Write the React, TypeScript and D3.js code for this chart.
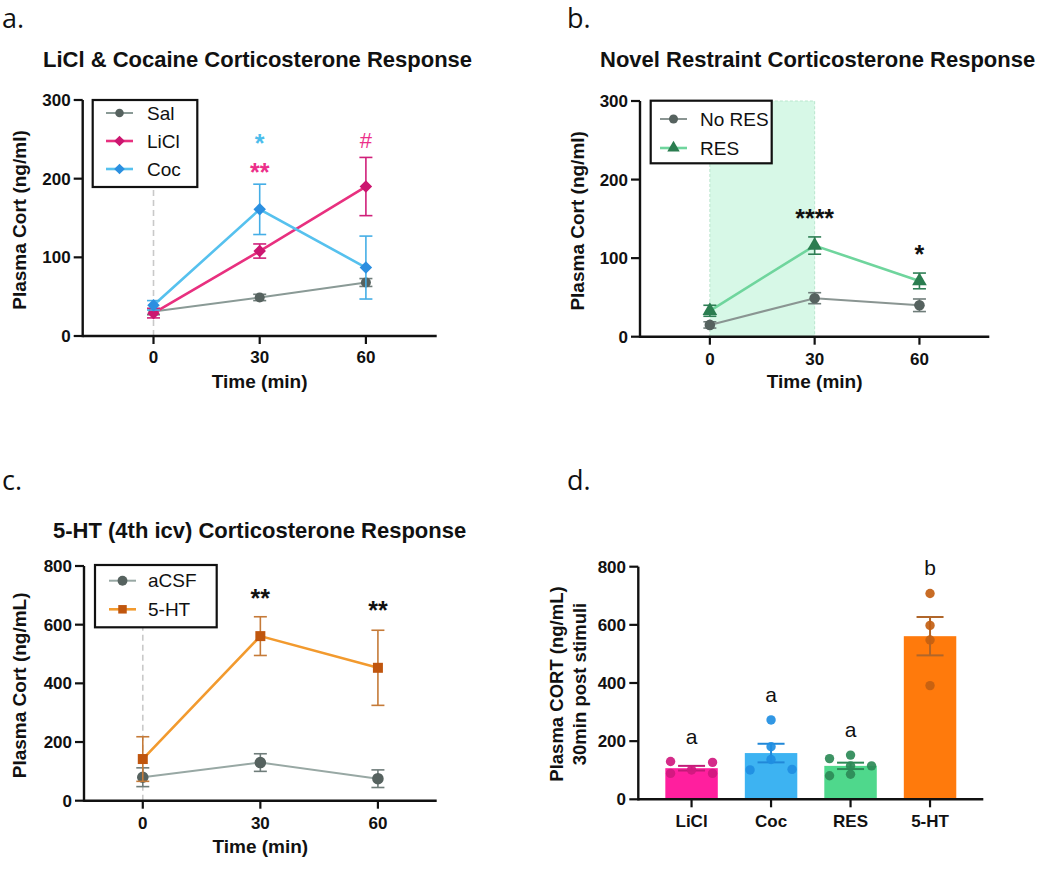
import React from "react";
import * as d3 from "d3";

// ---------- DATA ----------
const timePoints = [0, 30, 60];

// Panel a
const salMean = [31, 49, 68];
const salSem = [4, 4, 5];
const liclMean = [29, 108, 190];
const liclSem = [6, 9, 37];
const cocMean = [39, 161, 87];
const cocSem = [6, 32, 40];

// Panel b
const noResMean = [15, 49, 40];
const noResSem = [4, 7, 8];
const resMean = [33, 116, 71];
const resSem = [7, 11, 10];

// Panel c
const acsfMean = [80, 130, 75];
const acsfSem = [32, 30, 30];
const htMean = [142, 561, 453];
const htSem = [76, 66, 128];

// Panel d
const groups = ["LiCl", "Coc", "RES", "5-HT"];
const barMeans = [107, 159, 115, 561];
const barSems = [8, 32, 11, 66];
const liclPoints = [101, 130, 127, 89, 89];
const cocPoints = [273, 181, 137, 101, 103];
const resPoints = [115, 152, 140, 115, 81, 86];
const htPoints = [708, 598, 548, 391];
const groupLetters = ["a", "a", "a", "b"];

const yTicks300 = [0, 100, 200, 300];
const yTicks800 = [0, 200, 400, 600, 800];

// annotation marks: [time, value, text]
const annA = [
  { t: 30, v: 252, txt: "*", c: "#4cbdec" },
  { t: 30, v: 215, txt: "**", c: "#ec2f8a" },
  { t: 60, v: 249, txt: "#", c: "#ec2f8a" },
];
const annB = [
  { t: 30, v: 158, txt: "****", c: "#111" },
  { t: 60, v: 111, txt: "*", c: "#111" },
];
const annC = [
  { t: 30, v: 708, txt: "**", c: "#111" },
  { t: 60, v: 667, txt: "**", c: "#111" },
];

// ---------- HELPERS ----------
const FONT = "'Liberation Sans', Arial, Helvetica, sans-serif";

type Sym = "circle" | "diamond" | "triangle" | "square";
function symPath(kind: Sym, s: number): string {
  if (kind === "circle") return d3.symbol(d3.symbolCircle, Math.PI * s * s)()!;
  if (kind === "square") return d3.symbol(d3.symbolSquare, 4 * s * s)()!;
  if (kind === "triangle") return d3.symbol(d3.symbolTriangle, 2.2 * s * s)()!;
  // diamond: rotated square
  return `M0,${-s * 1.25}L${s * 1.25},0L0,${s * 1.25}L${-s * 1.25},0Z`;
}

type Series = {
  name: string;
  mean: number[];
  sem: number[];
  line: string;
  marker: string;
  err: string;
  sym: Sym;
  size: number;
  lw: number;
};

type PanelProps = {
  xr: [number, number];
  xd: [number, number];
  yr: [number, number];
  yd: [number, number];
  yTicks: number[];
  series: Series[];
  legend: { x0: number; y0: number; x1: number; y1: number; rowY: number[]; pad: number; gap: number };
  dashedAtZero?: boolean;
  shade?: [number, number];
  ann: { t: number; v: number; txt: string; c: string }[];
  yLabel: string;
  yLabelX: number;
  tickBase: number;
  timeBase: number;
};

function LinePanel(p: PanelProps) {
  const x = d3.scaleLinear().domain(p.xd).range(p.xr);
  const y = d3.scaleLinear().domain(p.yd).range(p.yr);
  const line = d3
    .line<number>()
    .x((_, i) => x(timePoints[i]))
    .y((d) => y(d));
  const y0 = y(p.yd[0]);
  const yTop = y(p.yd[1]);
  const cap = 6.5;
  return (
    <g>
      {p.shade && (
        <rect
          x={x(p.shade[0])}
          y={yTop}
          width={x(p.shade[1]) - x(p.shade[0])}
          height={y0 - yTop}
          fill="#d7f8e7"
          stroke="#b9e6cd"
          strokeWidth={1}
          strokeDasharray="3,2"
        />
      )}
      {p.dashedAtZero && (
        <line
          x1={x(0)}
          x2={x(0)}
          y1={y0}
          y2={yTop}
          stroke="#c9c9c9"
          strokeWidth={1.6}
          strokeDasharray="6,4"
        />
      )}
      {/* axes */}
      <line x1={p.xr[0]} x2={p.xr[1]} y1={y0} y2={y0} stroke="#111" strokeWidth={2.4} />
      <line x1={p.xr[0]} x2={p.xr[0]} y1={y0 + 1.2} y2={yTop} stroke="#111" strokeWidth={2.4} />
      {p.yTicks.map((t) => (
        <g key={"yt" + t}>
          <line x1={p.xr[0] - 9} x2={p.xr[0]} y1={y(t)} y2={y(t)} stroke="#111" strokeWidth={2.2} />
          <text
            x={p.xr[0] - 12}
            y={y(t) + 6}
            textAnchor="end"
            fontFamily={FONT}
            fontWeight="bold"
            fontSize={17}
            fill="#111"
          >
            {t}
          </text>
        </g>
      ))}
      {timePoints.map((t) => (
        <g key={"xt" + t}>
          <line x1={x(t)} x2={x(t)} y1={y0} y2={y0 + 8} stroke="#111" strokeWidth={2.2} />
          <text
            x={x(t)}
            y={p.tickBase}
            textAnchor="middle"
            fontFamily={FONT}
            fontWeight="bold"
            fontSize={17}
            fill="#111"
          >
            {t}
          </text>
        </g>
      ))}
      <text
        x={x(30)}
        y={p.timeBase}
        textAnchor="middle"
        fontFamily={FONT}
        fontWeight="bold"
        fontSize={19}
        fill="#111"
      >
        Time (min)
      </text>
      <text
        transform={`translate(${p.yLabelX},${(y0 + yTop) / 2 + 2}) rotate(-90)`}
        textAnchor="middle"
        fontFamily={FONT}
        fontWeight="bold"
        fontSize={19}
        fill="#111"
      >
        {p.yLabel}
      </text>
      {/* series */}
      {p.series.map((s) => (
        <g key={s.name}>
          <path d={line(s.mean)!} fill="none" stroke={s.line} strokeWidth={s.lw} />
          {s.mean.map((m, i) => {
            const cx = x(timePoints[i]);
            const hi = y(m + s.sem[i]);
            const lo = y(m - s.sem[i]);
            return (
              <g key={i}>
                <line x1={cx} x2={cx} y1={hi} y2={lo} stroke={s.err} strokeWidth={1.6} />
                <line x1={cx - cap} x2={cx + cap} y1={hi} y2={hi} stroke={s.err} strokeWidth={1.6} />
                <line x1={cx - cap} x2={cx + cap} y1={lo} y2={lo} stroke={s.err} strokeWidth={1.6} />
              </g>
            );
          })}
          {s.mean.map((m, i) => (
            <path
              key={"m" + i}
              d={symPath(s.sym, s.size)}
              transform={`translate(${x(timePoints[i])},${y(m)})`}
              fill={s.marker}
            />
          ))}
        </g>
      ))}
      {/* annotations */}
      {p.ann.map((a, i) => (
        <text
          key={"a" + i}
          x={x(a.t)}
          y={y(a.v) + (a.txt.startsWith("*") ? 14 : 8)}
          textAnchor="middle"
          fontFamily={FONT}
          fontWeight={a.txt === "#" ? "normal" : "bold"}
          fontSize={a.txt === "#" ? 22 : 25}
          fill={a.c}
        >
          {a.txt}
        </text>
      ))}
      {/* legend */}
      <rect
        x={p.legend.x0}
        y={p.legend.y0}
        width={p.legend.x1 - p.legend.x0}
        height={p.legend.y1 - p.legend.y0}
        fill="#fff"
        stroke="#111"
        strokeWidth={2.2}
      />
      {p.series.map((s, i) => {
        const ly = p.legend.rowY[i];
        const lx = p.legend.x0 + p.legend.pad;
        return (
          <g key={"lg" + s.name}>
            <line x1={lx} x2={lx + 27} y1={ly} y2={ly} stroke={s.line} strokeWidth={s.lw} />
            <path
              d={symPath(s.sym, s.size * 0.85)}
              transform={`translate(${lx + 13.5},${ly})`}
              fill={s.marker}
            />
            <text
              x={lx + p.legend.gap}
              y={ly + 6.5}
              fontFamily={FONT}
              fontSize={19}
              fill="#111"
            >
              {s.name}
            </text>
          </g>
        );
      })}
    </g>
  );
}

function swarm(values: number[], yf: (v: number) => number, step: number, thresh: number) {
  const placed: { x: number; y: number }[] = [];
  const offs = [0, -1, 1];
  return values.map((v) => {
    const py = yf(v);
    let best = 0;
    let bestD = -1;
    for (const o of offs) {
      const px = o * step;
      const md = placed.length
        ? Math.min(...placed.map((q) => Math.hypot(q.x - px, q.y - py)))
        : Infinity;
      if (md >= thresh) {
        best = px;
        bestD = Infinity;
        break;
      }
      if (md > bestD) {
        bestD = md;
        best = px;
      }
    }
    placed.push({ x: best, y: py });
    return { v, dx: best, py };
  });
}

function BarPanel() {
  const x = d3
    .scaleBand<string>()
    .domain(groups)
    .range([638.3, 983.3])
    .paddingInner(0.34)
    .paddingOuter(0.34);
  const y = d3.scaleLinear().domain([0, 800]).range([799.3, 566.7]);
  const fills = ["#ff1f9e", "#3db3f2", "#4fd88c", "#ff7a0c"];
  const dark = ["#d0197f", "#1f8ee2", "#2c8a57", "#c35f12"];
  const errc = ["#c21a78", "#2188d8", "#2c8a57", "#b0662a"];
  const pts = [liclPoints, cocPoints, resPoints, htPoints];
  const y0 = y(0);
  return (
    <g>
      {groups.map((g, i) => {
        const bx = x(g)!;
        const bw = x.bandwidth();
        const cx = bx + bw / 2;
        const hi = y(barMeans[i] + barSems[i]);
        const lo = y(barMeans[i] - barSems[i]);
        const sw = swarm(pts[i], y, 21, 10.5);
        return (
          <g key={g}>
            <rect x={bx} y={y(barMeans[i])} width={bw} height={y0 - y(barMeans[i])} fill={fills[i]} />
            <line x1={cx} x2={cx} y1={hi} y2={lo} stroke={errc[i]} strokeWidth={2} />
            <line x1={cx - 13.5} x2={cx + 13.5} y1={hi} y2={hi} stroke={errc[i]} strokeWidth={2} />
            <line x1={cx - 13.5} x2={cx + 13.5} y1={lo} y2={lo} stroke={errc[i]} strokeWidth={2} />
            {sw.map((p, j) => (
              <circle key={j} cx={cx + p.dx} cy={p.py} r={4.7} fill={dark[i]} opacity={0.92} />
            ))}
            <text
              x={cx}
              y={y(Math.max(...pts[i])) - 18}
              textAnchor="middle"
              fontFamily={FONT}
              fontSize={21}
              fill="#111"
            >
              {groupLetters[i]}
            </text>
            <line x1={cx} x2={cx} y1={y0} y2={y0 + 8} stroke="#111" strokeWidth={2.2} />
            <text
              x={cx}
              y={827}
              textAnchor="middle"
              fontFamily={FONT}
              fontWeight="bold"
              fontSize={17}
              fill="#111"
            >
              {g}
            </text>
          </g>
        );
      })}
      <line x1={638.3} x2={983.3} y1={y0} y2={y0} stroke="#111" strokeWidth={2.4} />
      <line x1={638.3} x2={638.3} y1={y0 + 1.2} y2={y(800)} stroke="#111" strokeWidth={2.4} />
      {yTicks800.map((t) => (
        <g key={t}>
          <line x1={629.3} x2={638.3} y1={y(t)} y2={y(t)} stroke="#111" strokeWidth={2.2} />
          <text
            x={626}
            y={y(t) + 6}
            textAnchor="end"
            fontFamily={FONT}
            fontWeight="bold"
            fontSize={17}
            fill="#111"
          >
            {t}
          </text>
        </g>
      ))}
      <text
        transform={`translate(556.7,684) rotate(-90)`}
        textAnchor="middle"
        fontFamily={FONT}
        fontWeight="bold"
        fontSize={18.5}
        fill="#111"
      >
        <tspan x={0} y={6}>Plasma CORT (ng/mL)</tspan>
        <tspan x={0} y={29}>30min post stimuli</tspan>
      </text>
    </g>
  );
}

export default function App() {
  const greyA: Series = {
    name: "Sal", mean: salMean, sem: salSem, line: "#8a9a96", marker: "#56625f",
    err: "#6f7d7a", sym: "circle", size: 5, lw: 2,
  };
  const licl: Series = {
    name: "LiCl", mean: liclMean, sem: liclSem, line: "#e8307f", marker: "#cc1670",
    err: "#d0207a", sym: "diamond", size: 5, lw: 2.6,
  };
  const coc: Series = {
    name: "Coc", mean: cocMean, sem: cocSem, line: "#56c1ee", marker: "#2b8fe0",
    err: "#45aee6", sym: "diamond", size: 5, lw: 2.6,
  };
  const noRes: Series = {
    name: "No RES", mean: noResMean, sem: noResSem, line: "#8a9592", marker: "#56625f",
    err: "#6f7d7a", sym: "circle", size: 5.3, lw: 2,
  };
  const res: Series = {
    name: "RES", mean: resMean, sem: resSem, line: "#6fd59d", marker: "#2b7d50",
    err: "#2f7f55", sym: "triangle", size: 6.5, lw: 2.6,
  };
  const acsf: Series = {
    name: "aCSF", mean: acsfMean, sem: acsfSem, line: "#98a8a4", marker: "#56625f",
    err: "#6f7d7a", sym: "circle", size: 5.8, lw: 2,
  };
  const ht: Series = {
    name: "5-HT", mean: htMean, sem: htSem, line: "#f29a2e", marker: "#c0560e",
    err: "#c57a38", sym: "square", size: 5, lw: 2.6,
  };
  return (
    <svg
      width={1050}
      height={877}
      style={{ display: "block", background: "#fff", position: "absolute", left: 0, top: 0 }}
    >
      {/* panel labels */}
      <text x={2} y={28} fontFamily="'Open Sans', sans-serif" fontSize={27} fill="#111">a.</text>
      <text x={567} y={28} fontFamily="'Open Sans', sans-serif" fontSize={27} fill="#111">b.</text>
      <text x={2} y={490} fontFamily="'Open Sans', sans-serif" fontSize={27} fill="#111">c.</text>
      <text x={567} y={490} fontFamily="'Open Sans', sans-serif" fontSize={27} fill="#111">d.</text>
      {/* titles */}
      <text x={43} y={67} fontFamily={FONT} fontWeight="bold" fontSize={22} fill="#111">
        LiCl &amp; Cocaine Corticosterone Response
      </text>
      <text x={600} y={67} fontFamily={FONT} fontWeight="bold" fontSize={22} fill="#111">
        Novel Restraint Corticosterone Response
      </text>
      <text x={53} y={538} fontFamily={FONT} fontWeight="bold" fontSize={22} fill="#111">
        5-HT (4th icv) Corticosterone Response
      </text>

      <LinePanel
        xr={[82.7, 436.7]}
        xd={[-20, 80]}
        yr={[336, 100]}
        yd={[0, 300]}
        yTicks={yTicks300}
        series={[greyA, licl, coc]}
        legend={{ x0: 92.7, y0: 100, x1: 197.3, y1: 187, rowY: [113, 141, 169], pad: 13.3, gap: 41 }}
        dashedAtZero
        ann={annA}
        yLabel="Plasma Cort (ng/ml)"
        yLabelX={26}
        tickBase={363}
        timeBase={388}
      />
      <LinePanel
        xr={[640, 989.3]}
        xd={[-20, 80]}
        yr={[336.7, 101]}
        yd={[0, 300]}
        yTicks={yTicks300}
        series={[noRes, res]}
        legend={{ x0: 650.7, y0: 100.7, x1: 771.7, y1: 163.3, rowY: [119, 148], pad: 9.3, gap: 40 }}
        shade={[0, 30]}
        ann={annB}
        yLabel="Plasma Cort (ng/ml)"
        yLabelX={584}
        tickBase={365}
        timeBase={388}
      />
      <LinePanel
        xr={[84, 436.7]}
        xd={[-15, 75]}
        yr={[800.7, 566]}
        yd={[0, 800]}
        yTicks={yTicks800}
        series={[acsf, ht]}
        legend={{ x0: 95, y0: 565, x1: 216.7, y1: 627.3, rowY: [580.7, 609.3], pad: 14, gap: 39 }}
        dashedAtZero
        ann={annC}
        yLabel="Plasma Cort (ng/mL)"
        yLabelX={26}
        tickBase={829}
        timeBase={853}
      />
      <BarPanel />
    </svg>
  );
}
